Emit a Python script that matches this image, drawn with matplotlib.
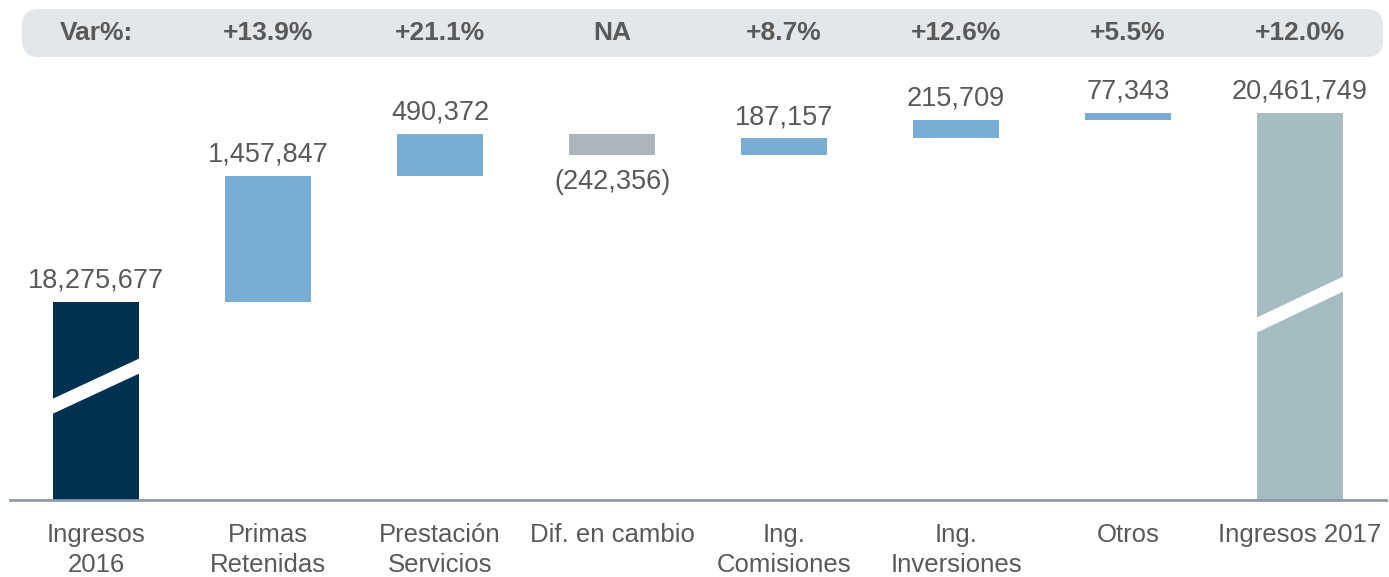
import matplotlib
matplotlib.use("Agg")
import matplotlib.pyplot as plt
from matplotlib.patches import FancyBboxPatch, Polygon
from matplotlib.transforms import blended_transform_factory

categories = ["Ingresos\n2016", "Primas\nRetenidas", "Prestación\nServicios", "Dif. en cambio",
              "Ing.\nComisiones", "Ing.\nInversiones", "Otros", "Ingresos 2017"]
start_total = 18275677
deltas = [1457847, 490372, -242356, 187157, 215709, 77343]
end_total = 20461749
var_labels = ["Var%:", "+13.9%", "+21.1%", "NA", "+8.7%", "+12.6%", "+5.5%", "+12.0%"]

C_START = "#003150"
C_POS = "#7aadd4"
C_NEG = "#adb5bc"
C_END = "#a6bcc3"
TXT = "#595959"

plt.rcParams['font.family'] = ['Liberation Sans', 'DejaVu Sans']

W, H = 1389, 577
fig = plt.figure(figsize=(W / 100, H / 100), dpi=100)
ax_bottom_px, ax_top_px = 500, 60
ax = fig.add_axes([10 / W, (H - ax_bottom_px) / H, 1376 / W, (ax_bottom_px - ax_top_px) / H])

ybase = 15985600
per_px = 11566
ax.set_ylim(ybase, ybase + (ax_bottom_px - ax_top_px) * per_px)
ax.set_xlim(-0.5, 7.5)
bw = 0.5
NUM_FS = 19.5
POS_OFF = 8 * per_px
NEG_OFF = 14 * per_px

# first bar
ax.bar(0, start_total - ybase, bottom=ybase, width=bw, color=C_START, zorder=2)
ax.text(0, start_total + POS_OFF, f"{start_total:,}", ha="center", va="bottom", fontsize=NUM_FS, color=TXT)

cum = start_total
for i, d in enumerate(deltas, start=1):
    lo, hi = (cum, cum + d) if d >= 0 else (cum + d, cum)
    ax.bar(i, hi - lo, bottom=lo, width=bw, color=C_POS if d >= 0 else C_NEG, zorder=2)
    if d >= 0:
        ax.text(i, hi + POS_OFF, f"{d:,}", ha="center", va="bottom", fontsize=NUM_FS, color=TXT)
    else:
        ax.text(i, lo - NEG_OFF, f"({-d:,})", ha="center", va="top", fontsize=NUM_FS, color=TXT)
    cum += d

ax.bar(7, end_total - ybase, bottom=ybase, width=bw, color=C_END, zorder=2)
ax.text(7, end_total + POS_OFF, f"{end_total:,}", ha="center", va="bottom", fontsize=NUM_FS, color=TXT)

# axis-break marks (white slanted bands)
def brk(x, val, f_left, f_right, thick_px=15):
    h = val - ybase
    yl = ybase + f_left * h
    yr = ybase + f_right * h
    t = thick_px * per_px / 2
    poly = Polygon([(x - bw / 2 - 0.01, yl - t), (x + bw / 2 + 0.01, yr - t),
                    (x + bw / 2 + 0.01, yr + t), (x - bw / 2 - 0.01, yl + t)],
                   closed=True, facecolor="white", edgecolor="none", zorder=3)
    ax.add_patch(poly)

brk(0, start_total, 0.47, 0.68)
brk(7, end_total, 0.45, 0.56)

for s in ax.spines.values():
    s.set_visible(False)
ax.axhline(ybase, color="#8d9ba7", lw=2, zorder=4, clip_on=False)
ax.set_xticks([])
ax.set_yticks([])

# category labels
tr = blended_transform_factory(ax.transData, fig.transFigure)
for i, c in enumerate(categories):
    fig.text(i, (H - 523) / H, c, ha="center", va="top", fontsize=18.5, color=TXT,
             transform=tr, linespacing=1.33)

# banner
banner = FancyBboxPatch((22 / W, (H - 57) / H), 1361 / W, 48 / H,
                        boxstyle="round,pad=0,rounding_size=0.012",
                        transform=fig.transFigure, facecolor="#e4e7ea", edgecolor="none",
                        mutation_aspect=W / H, zorder=-1)
fig.patches.append(banner)
for i, v in enumerate(var_labels):
    fig.text(i, (H - 33) / H, v, ha="center", va="center", fontsize=19, fontweight="bold",
             color=TXT, transform=tr, zorder=5)

fig.savefig("out.png", dpi=100)
